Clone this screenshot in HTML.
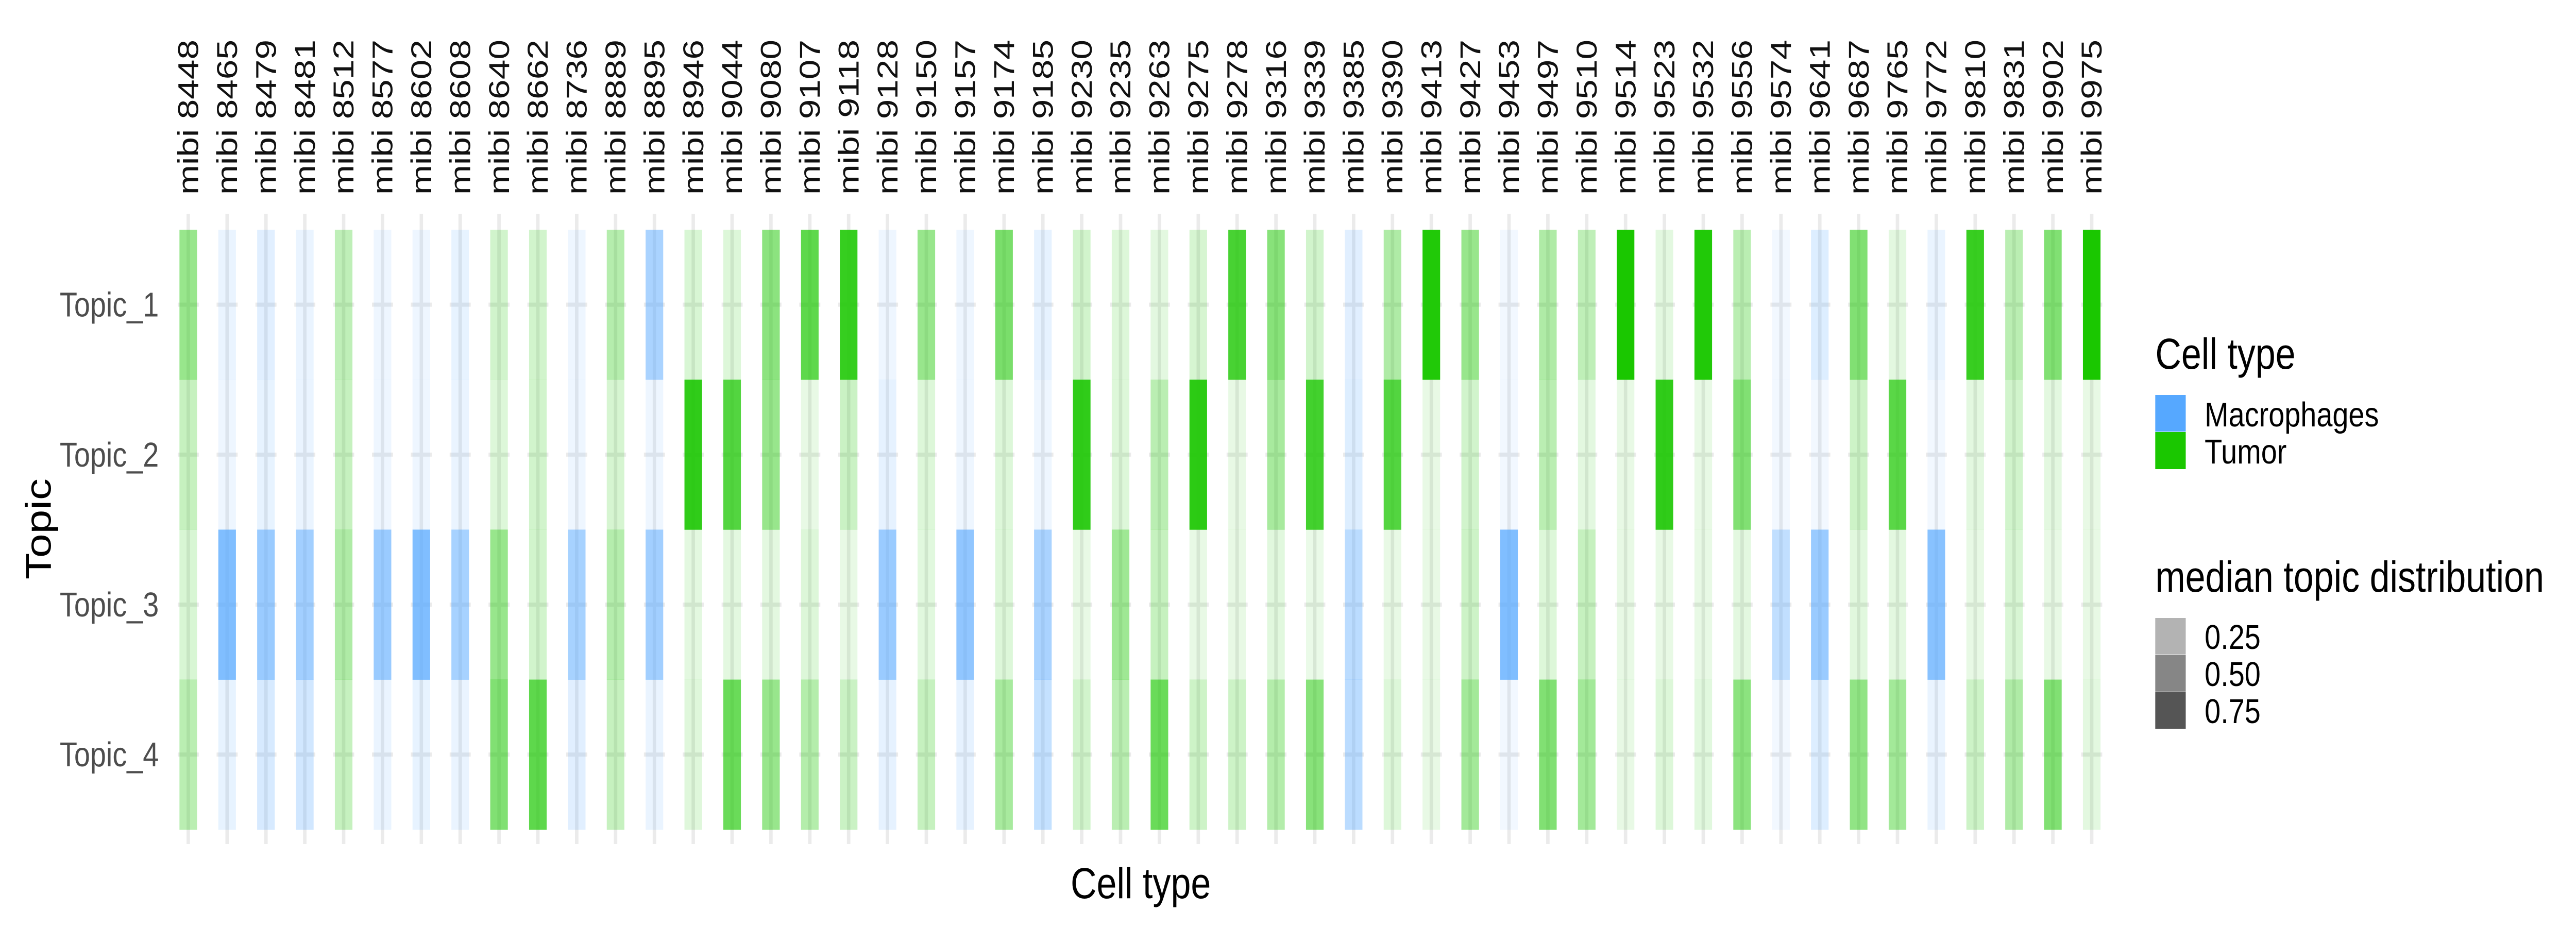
<!DOCTYPE html>
<html><head><meta charset="utf-8"><style>
html,body{margin:0;padding:0;background:#fff;overflow:hidden;width:100vw;height:100vh;}
svg{display:block;width:100vw;height:100vh;font-family:"Liberation Sans",Arial,sans-serif;}
</style></head><body>
<svg id="chart" viewBox="0 0 6000 1800" preserveAspectRatio="none" xmlns="http://www.w3.org/2000/svg">
<rect x="0" y="0" width="6000" height="1800" fill="#fff"/>
<g id="grid"></g>
<g id="tiles"></g>
<g id="xlabels"></g>
<g id="ylabels"></g>
<text x="2657" y="1744" font-size="84" text-anchor="middle" fill="#000">Cell type</text>
<text transform="translate(118,1027) rotate(-90)" font-size="84" text-anchor="middle" fill="#000">Topic</text>
<g>
<text x="5020" y="716" font-size="84" fill="#000">Cell type</text>
<rect x="5020" y="767" width="71" height="71" fill="#56a8ff"/>
<text x="5135" y="828" font-size="67" fill="#000">Macrophages</text>
<rect x="5020" y="839" width="71" height="72" fill="#1ac700"/>
<text x="5135" y="900" font-size="67" fill="#000">Tumor</text>
</g>
<g>
<text x="5020" y="1149" font-size="84" fill="#000">median topic distribution</text>
<rect x="5020" y="1200" width="71" height="71" fill="#b3b3b3"/>
<text x="5135" y="1260" font-size="67" fill="#000">0.25</text>
<rect x="5020" y="1272" width="71" height="71" fill="#868686"/>
<text x="5135" y="1332" font-size="67" fill="#000">0.50</text>
<rect x="5020" y="1344" width="71" height="71" fill="#555555"/>
<text x="5135" y="1404" font-size="67" fill="#000">0.75</text>
</g>
</svg>
<script>
const samples = ["8448","8465","8479","8481","8512","8577","8602","8608","8640","8662","8736","8889","8895","8946","9044","9080","9107","9118","9128","9150","9157","9174","9185","9230","9235","9263","9275","9278","9316","9339","9385","9390","9413","9427","9453","9497","9510","9514","9523","9532","9556","9574","9641","9687","9765","9772","9810","9831","9902","9975"];
const cellTypes = ["T","M","M","M","T","M","M","M","T","T","M","T","M","T","T","T","T","T","M","T","M","T","M","T","T","T","T","T","T","T","M","T","T","T","M","T","T","T","T","T","T","M","M","T","T","M","T","T","T","T"];
const topics = ["Topic_1","Topic_2","Topic_3","Topic_4"];
const topic1 = [0.45,0.12,0.18,0.12,0.28,0.1,0.1,0.14,0.2,0.2,0.1,0.32,0.5,0.17,0.15,0.5,0.7,0.88,0.1,0.45,0.1,0.58,0.15,0.2,0.15,0.12,0.18,0.8,0.52,0.2,0.18,0.35,0.97,0.45,0.08,0.35,0.28,1.0,0.12,0.97,0.3,0.08,0.2,0.55,0.12,0.12,0.87,0.3,0.55,1.0];
const topic2 = [0.25,0.1,0.14,0.12,0.25,0.1,0.1,0.12,0.15,0.2,0.1,0.18,0.1,0.9,0.75,0.45,0.1,0.23,0.15,0.15,0.1,0.15,0.1,0.9,0.15,0.3,0.92,0.1,0.38,0.82,0.2,0.75,0.1,0.2,0.08,0.3,0.12,0.1,0.9,0.1,0.55,0.08,0.08,0.22,0.72,0.08,0.12,0.2,0.12,0.1];
const topic3 = [0.17,0.75,0.6,0.55,0.35,0.6,0.75,0.52,0.45,0.2,0.52,0.32,0.55,0.12,0.12,0.12,0.15,0.1,0.6,0.13,0.65,0.15,0.5,0.1,0.42,0.25,0.1,0.1,0.13,0.09,0.4,0.1,0.1,0.22,0.75,0.15,0.25,0.1,0.1,0.1,0.12,0.37,0.6,0.13,0.12,0.7,0.1,0.17,0.1,0.1];
const topic4 = [0.3,0.14,0.24,0.27,0.25,0.12,0.14,0.12,0.55,0.7,0.18,0.25,0.12,0.14,0.65,0.45,0.33,0.23,0.15,0.25,0.15,0.38,0.35,0.2,0.3,0.65,0.22,0.22,0.33,0.52,0.4,0.15,0.1,0.4,0.08,0.55,0.4,0.1,0.15,0.13,0.5,0.08,0.2,0.48,0.4,0.12,0.22,0.35,0.55,0.12];

const NS = "http://www.w3.org/2000/svg";
const x0 = 438.5, xStep = 90.48;
const yTop = 446, rowH = 291.2;
function xScale(i){ return x0 + i*xStep; }
function yScale(j){ return yTop + j*rowH; }
const colorOf = {M:"#56a8ff", T:"#1ac700"};
const grid = document.getElementById('grid');
const tiles = document.getElementById('tiles');
const xl = document.getElementById('xlabels');
const yl = document.getElementById('ylabels');
const series = [topic1, topic2, topic3, topic4];

samples.forEach((s, i) => {
  const cx = xScale(i);
  const v = document.createElementNS(NS, 'rect');
  
  
  v.setAttribute('x', cx - 4); v.setAttribute('y', 415);
  v.setAttribute('width', 8); v.setAttribute('height', 1224);
  v.setAttribute('fill', '#ebebeb');
  grid.appendChild(v);
  topics.forEach((t, j) => {
    const h = document.createElementNS(NS, 'rect');
    
    
    h.setAttribute('x', cx - 24.5); h.setAttribute('y', yScale(j) + rowH/2 - 4);
    h.setAttribute('width', 49); h.setAttribute('height', 8);
    h.setAttribute('fill', '#ebebeb');
    grid.appendChild(h);
    const r = document.createElementNS(NS, 'rect');
    
    
    r.setAttribute('x', cx - 20.5); r.setAttribute('y', yScale(j));
    r.setAttribute('width', 41); r.setAttribute('height', rowH + 0.3);
    r.setAttribute('fill', colorOf[cellTypes[i]]);
    r.setAttribute('fill-opacity', series[j][i]);
    tiles.appendChild(r);
  });
  const tx = document.createElementNS(NS, 'text');
  
  
  tx.setAttribute('transform', 'translate(' + (cx + 23) + ',378) rotate(-90)');
  tx.setAttribute('font-size', '67');
  tx.setAttribute('fill', '#111');
  tx.setAttribute('textLength', '301');
  tx.setAttribute('lengthAdjust', 'spacingAndGlyphs');
  tx.textContent = 'mibi  ' + s;
  xl.appendChild(tx);
});
topics.forEach((t, j) => {
  const tx = document.createElementNS(NS, 'text');
  
  
  tx.setAttribute('x', 370);
  tx.setAttribute('y', yScale(j) + rowH/2 + 23);
  tx.setAttribute('font-size', '67');
  tx.setAttribute('text-anchor', 'end');
  tx.setAttribute('fill', '#4d4d4d');
  tx.textContent = t;
  yl.appendChild(tx);
});
</script>
</body></html>
